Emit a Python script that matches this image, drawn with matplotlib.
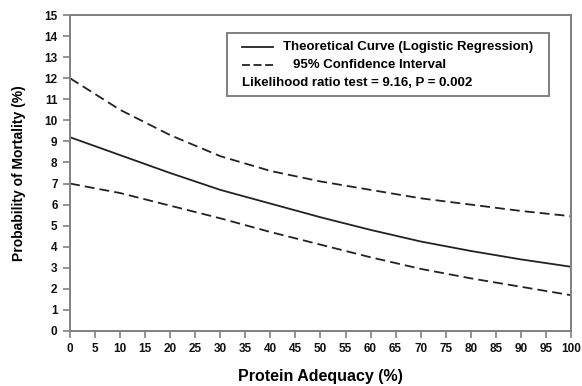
import matplotlib.pyplot as plt
from matplotlib.lines import Line2D
from matplotlib.patches import Rectangle

plt.rcParams['font.family'] = ['Liberation Sans', 'DejaVu Sans']
plt.rcParams['font.weight'] = 'bold'

# values
adequacy = [0, 10, 20, 30, 40, 50, 60, 70, 80, 90, 100]
theoretical = [9.2, 8.35, 7.5, 6.7, 6.05, 5.4, 4.8, 4.25, 3.8, 3.4, 3.05]
ci_upper = [12.0, 10.5, 9.3, 8.3, 7.6, 7.1, 6.7, 6.3, 6.0, 5.7, 5.45]
ci_lower = [7.0, 6.55, 5.95, 5.35, 4.7, 4.1, 3.5, 2.95, 2.5, 2.1, 1.7]

x_ticks = list(range(0, 101, 5))
y_ticks = list(range(0, 16))

line_color = '#222222'
axis_color = '#808080'

fig = plt.figure(figsize=(5.82, 3.86), dpi=100)
ax = fig.add_axes([0.1203, 0.1425, 0.8607, 0.8185])

ax.plot(adequacy, theoretical, color=line_color, lw=1.3, solid_capstyle='butt')
ax.plot(adequacy, ci_upper, color=line_color, lw=1.3, dashes=(5.5, 2.8))
ax.plot(adequacy, ci_lower, color=line_color, lw=1.3, dashes=(5.5, 2.8))

ax.set_xlim(0, 100)
ax.set_ylim(0, 15)
ax.set_xticks(x_ticks)
ax.set_yticks(y_ticks)
ax.tick_params(direction='out', length=5, width=1.2, color=axis_color,
               labelsize=8.5, labelcolor='#111111', pad=4)
for lab in ax.get_xticklabels() + ax.get_yticklabels():
    lab.set_fontweight('bold')
for sp in ax.spines.values():
    sp.set_color(axis_color)
    sp.set_linewidth(1.4)

ax.set_xlabel('Protein Adequacy (%)', fontsize=11.5, fontweight='bold', labelpad=10)
ax.set_ylabel('Probability of Mortality (%)', fontsize=10, fontweight='bold', labelpad=13)

# legend box drawn by hand
ax.add_patch(Rectangle((0.313, 0.744), 0.643, 0.199, transform=ax.transAxes,
                       facecolor='white', edgecolor=axis_color, lw=1.4, zorder=5))
ax.add_line(Line2D([0.343, 0.405], [0.899, 0.899], transform=ax.transAxes,
                   color=line_color, lw=1.3, zorder=6))
ax.add_line(Line2D([0.343, 0.405], [0.842, 0.842], transform=ax.transAxes,
                   color=line_color, lw=1.3, dashes=(4.4, 2.0), zorder=6))
ax.text(0.425, 0.899, 'Theoretical Curve (Logistic Regression)', transform=ax.transAxes,
        fontsize=9.5, fontweight='bold', va='center', ha='left', zorder=6)
ax.text(0.445, 0.842, '95% Confidence Interval', transform=ax.transAxes,
        fontsize=9.5, fontweight='bold', va='center', ha='left', zorder=6)
ax.text(0.343, 0.785, 'Likelihood ratio test = 9.16, P = 0.002', transform=ax.transAxes,
        fontsize=9.5, fontweight='bold', va='center', ha='left', zorder=6)

fig.savefig('out.png', dpi=100)
